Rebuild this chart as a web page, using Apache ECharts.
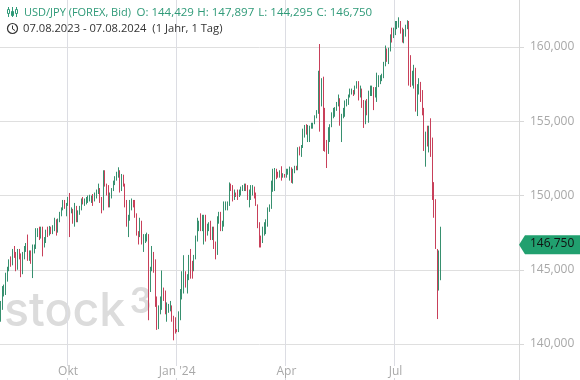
<!DOCTYPE html>
<html>
<head>
<meta charset="utf-8">
<style>
  html, body { margin: 0; padding: 0; background: #fff; }
  #chart { width: 580px; height: 380px; }
</style>
<script src="https://cdn.jsdelivr.net/npm/echarts@6/dist/echarts.min.js"></script>
</head>
<body>
<div id="chart"></div>
<script>
// one line per trading week, Monday to Friday
const opens = [
  141.8,142.5,143.4,143.8,144.7,
  145.0,145.6,145.5,146.3,146.1,
  145.4,146.2,145.9,144.8,146.1,
  146.4,146.5,145.9,146.1,145.5,
  146.2,146.5,147.7,147.7,147.3,
  147.8,146.6,147.1,147.5,147.4,
  147.8,147.6,147.8,148.3,147.6,
  148.3,148.8,149.0,149.6,149.3,
  149.3,149.8,149.0,149.0,148.5,
  149.3,148.5,148.7,149.2,149.8,
  149.5,149.5,149.8,149.8,149.9,
  149.9,149.7,149.9,150.3,150.4,
  149.6,149.1,151.7,150.9,150.5,
  149.4,150.0,150.4,150.9,151.3,
  151.5,151.7,150.4,151.4,150.7,
  149.6,148.3,148.4,149.5,149.6,
  149.4,148.7,147.4,147.2,148.2,
  146.8,147.2,147.2,147.3,144.2,
  144.9,146.2,145.4,142.9,141.9,
  142.1,142.8,143.8,143.5,142.1,
  142.4,142.4,142.4,141.8,141.4,
  141.0,140.9,142.0,143.3,144.6,
  144.6,144.2,144.5,145.8,145.3,
  144.9,145.8,147.2,148.1,148.2,
  148.1,148.1,148.4,147.5,147.7,
  148.1,147.5,147.6,146.9,146.4,
  148.4,148.7,147.9,148.0,149.3,
  149.3,149.4,150.7,150.6,150.0,
  150.2,150.1,150.0,150.3,150.5,
  150.5,150.7,150.5,149.9,150.0,
  150.1,150.5,150.0,149.4,147.9,
  147.1,147.0,147.7,147.7,148.3,
  149.0,149.1,150.8,151.2,151.6,
  151.5,151.4,151.5,151.3,151.4,
  151.3,151.6,151.6,151.7,151.3,
  151.6,151.9,151.8,153.2,153.0,
  153.3,154.2,154.7,154.3,154.6,
  154.6,154.8,154.8,155.3,155.6,
  158.3,156.3,157.8,154.6,153.7,
  153.0,153.9,154.7,155.5,155.5,
  155.8,156.2,156.4,154.9,155.4,
  155.7,156.2,156.2,156.8,157.0,
  157.0,156.9,157.2,157.6,156.8,
  157.3,156.1,154.8,156.1,155.6,
  156.7,157.0,157.0,156.7,157.0,
  157.4,157.7,157.9,158.1,158.9,
  159.8,159.7,159.7,160.8,160.7,
  160.9,161.5,161.5,161.7,161.3,
  160.7,160.8,161.3,161.5,158.8,
  157.9,158.0,158.3,156.2,157.4,
  157.5,157.0,155.6,153.9,153.9,
  153.8,154.0,152.8,150.0,149.3,
  146.5,144.2,144.429
];
const closes = [
  142.5,143.4,143.8,144.7,145.0,
  145.6,145.5,146.3,146.1,145.4,
  146.2,145.9,144.8,146.1,146.4,
  146.5,145.9,146.1,145.5,146.2,
  146.5,147.7,147.7,147.3,147.8,
  146.6,147.1,147.5,147.4,147.8,
  147.6,147.8,148.3,147.6,148.3,
  148.8,149.0,149.6,149.3,149.3,
  149.8,149.0,149.0,148.5,149.3,
  148.5,148.7,149.2,149.8,149.5,
  149.5,149.8,149.8,149.9,149.9,
  149.7,149.9,150.3,150.4,149.6,
  149.1,151.7,150.9,150.5,149.4,
  150.0,150.4,150.9,151.3,151.5,
  151.7,150.4,151.4,150.7,149.6,
  148.3,148.4,149.5,149.6,149.4,
  148.7,147.4,147.2,148.2,146.8,
  147.2,147.2,147.3,144.2,144.9,
  146.2,145.4,142.9,141.9,142.1,
  142.8,143.8,143.5,142.1,142.4,
  142.4,142.4,141.8,141.4,141.0,
  140.9,142.0,143.3,144.6,144.6,
  144.2,144.5,145.8,145.3,144.9,
  145.8,147.2,148.1,148.2,148.1,
  148.1,148.4,147.5,147.7,148.1,
  147.5,147.6,146.9,146.4,148.4,
  148.7,147.9,148.0,149.3,149.3,
  149.4,150.7,150.6,150.0,150.2,
  150.1,150.0,150.3,150.5,150.5,
  150.7,150.5,149.9,150.0,150.1,
  150.5,150.0,149.4,147.9,147.1,
  147.0,147.7,147.7,148.3,149.0,
  149.1,150.8,151.2,151.6,151.5,
  151.4,151.5,151.3,151.4,151.3,
  151.6,151.6,151.7,151.3,151.6,
  151.9,151.8,153.2,153.0,153.3,
  154.2,154.7,154.3,154.6,154.6,
  154.8,154.8,155.3,155.6,158.3,
  156.3,157.8,154.6,153.7,153.0,
  153.9,154.7,155.5,155.5,155.8,
  156.2,156.4,154.9,155.4,155.7,
  156.2,156.2,156.8,157.0,157.0,
  156.9,157.2,157.6,156.8,157.3,
  156.1,154.8,156.1,155.6,156.7,
  157.0,157.0,156.7,157.0,157.4,
  157.7,157.9,158.1,158.9,159.8,
  159.7,159.7,160.8,160.7,160.9,
  161.5,161.5,161.7,161.3,160.7,
  160.8,161.3,161.5,158.8,157.9,
  158.0,158.3,156.2,157.4,157.5,
  157.0,155.6,153.9,153.9,153.8,
  154.0,152.8,150.0,149.3,146.5,
  144.2,144.429,146.75
];
const lows = [
  141.5,142.3,143.2,143.3,144.2,
  144.9,145.2,145.3,145.8,144.9,
  145.0,145.7,144.5,144.7,145.7,
  146.2,145.6,145.6,145.4,144.44,
  146.1,146.4,147.2,147.0,147.1,
  145.9,146.5,146.8,147.2,147.3,
  147.4,147.4,147.6,147.3,147.5,
  148.2,148.6,149.0,149.1,148.6,
  149.3,147.2,148.8,148.1,147.9,
  148.2,148.2,148.7,149.0,149.4,
  149.3,149.4,149.5,149.6,149.5,
  149.3,149.6,149.8,150.1,149.5,
  148.8,149.0,150.6,150.0,149.2,
  149.2,149.8,150.3,150.7,151.0,
  151.2,150.2,150.3,150.6,149.2,
  147.9,147.2,148.3,149.0,149.2,
  148.5,147.3,146.7,147.2,146.7,
  146.2,146.8,146.9,141.6,143.5,
  144.9,144.8,142.5,140.95,141.0,
  142.0,142.3,142.9,142.0,141.5,
  142.1,142.2,141.5,140.25,140.7,
  140.8,140.8,141.6,143.0,143.4,
  143.8,143.4,144.3,144.4,144.4,
  144.9,145.7,146.9,147.6,147.6,
  147.6,146.7,146.9,147.3,147.6,
  147.0,147.0,146.4,145.7,146.0,
  148.1,147.6,147.6,147.9,149.0,
  149.0,149.3,150.3,149.6,149.7,
  149.9,149.7,149.9,150.0,150.3,
  150.3,150.3,149.7,149.2,149.7,
  150.0,149.8,149.3,147.8,146.5,
  146.5,146.8,147.3,147.4,147.9,
  148.9,149.1,150.25,150.3,151.1,
  151.2,151.2,151.0,151.2,151.2,
  151.2,151.4,151.0,150.85,150.8,
  151.5,151.7,151.7,152.7,152.6,
  153.2,153.9,154.1,153.6,153.6,
  154.5,154.5,154.8,155.2,155.5,
  154.3,156.0,153.0,152.95,151.85,
  152.8,153.6,154.6,155.2,155.3,
  155.7,156.0,154.7,153.6,155.2,
  155.3,156.0,156.1,156.6,156.8,
  156.7,156.8,157.2,156.4,156.6,
  155.9,154.55,154.8,155.4,154.9,
  156.7,156.7,155.75,156.6,156.3,
  157.3,157.5,157.7,157.9,158.7,
  159.0,158.85,159.7,160.3,160.6,
  160.8,161.2,161.3,160.9,160.3,
  160.25,160.7,161.2,157.4,157.3,
  157.4,157.2,155.65,155.35,156.8,
  156.3,155.4,153.0,151.94,153.3,
  152.9,152.6,149.7,148.5,146.4,
  141.68,143.6,144.295
];
const highs = [
  142.9,143.9,144.0,144.8,145.2,
  145.7,145.9,146.4,146.6,146.2,
  146.4,146.4,146.1,146.2,146.6,
  146.8,147.37,146.3,146.3,146.7,
  146.7,147.8,147.8,147.9,147.9,
  147.9,147.2,147.7,147.9,147.95,
  147.9,148.0,148.5,148.4,148.45,
  148.9,149.2,149.7,149.7,149.5,
  149.9,150.17,149.2,149.1,149.5,
  149.3,149.0,149.3,149.8,149.9,
  149.8,149.9,150.0,150.05,150.0,
  150.1,150.2,150.4,150.8,150.5,
  149.9,151.7,151.7,150.8,150.7,
  150.2,150.5,151.0,151.3,151.6,
  151.9,151.7,151.45,151.4,150.8,
  149.7,148.7,149.7,149.8,149.7,
  149.7,148.8,147.6,148.5,148.3,
  147.4,147.4,147.5,147.4,145.2,
  146.6,146.2,145.7,143.2,142.6,
  143.2,144.95,143.8,143.6,142.8,
  142.7,142.9,142.6,141.9,141.8,
  141.0,142.2,143.7,144.9,145.98,
  144.9,144.7,146.0,146.4,145.6,
  146.0,147.3,148.5,148.3,148.8,
  148.7,148.7,148.7,148.1,148.2,
  148.3,147.9,147.9,146.9,148.6,
  148.9,148.9,148.3,149.6,149.6,
  149.6,150.88,150.8,150.7,150.4,
  150.2,150.4,150.4,150.6,150.7,
  150.8,150.8,150.7,150.4,150.7,
  150.7,150.6,150.2,149.4,148.2,
  147.3,147.9,148.2,148.4,149.2,
  149.4,151.0,151.8,151.85,151.8,
  151.6,151.7,151.97,151.5,151.45,
  151.8,151.8,151.95,151.9,151.8,
  152.0,152.0,153.25,153.3,153.4,
  154.5,154.75,154.8,154.75,154.7,
  154.9,154.9,155.4,155.75,158.4,
  160.2,157.9,158.0,155.9,153.74,
  154.6,154.8,155.6,155.9,155.95,
  156.3,156.8,156.55,155.5,155.9,
  156.4,156.5,156.8,157.2,157.2,
  157.1,157.4,157.7,157.7,157.4,
  157.2,156.43,156.4,156.5,157.06,
  157.4,157.4,157.3,157.3,158.27,
  158.1,158.1,158.2,159.0,160.1,
  159.9,159.95,160.85,161.3,161.3,
  161.75,161.75,162.0,161.75,161.3,
  161.2,161.5,161.8,161.75,159.45,
  158.4,158.8,158.6,157.5,157.9,
  157.65,157.1,155.9,154.3,154.7,
  154.7,155.2,153.9,150.9,149.75,
  146.4,146.3,147.897
];
const startDate = '2023-08-07';
const slotCount = 309; // weekdays on the axis incl. the empty space on the right
const tickLabels = { '2023-10-02': 'Okt', '2024-01-01': "Jan '24", '2024-04-01': 'Apr', '2024-07-01': 'Jul' };
const priceTicks = [140, 145, 150, 155, 160];
const lastPrice = 146.75;
const headerParts = ['USD/JPY (FOREX, Bid)', 'O: 144,429', 'H: 147,897', 'L: 144,295', 'C: 146,750'];
const rangeText = '07.08.2023 - 07.08.2024  (1 Jahr, 1 Tag)';

const UP = '#37906f';
const DOWN = '#c8405a';
const FONT = '"Open Sans", sans-serif';

function weekdays(start, n) {
  const out = [];
  const d = new Date(start + 'T12:00:00Z');
  while (out.length < n) {
    if (d.getUTCDay() !== 0 && d.getUTCDay() !== 6) out.push(d.toISOString().slice(0, 10));
    d.setUTCDate(d.getUTCDate() + 1);
  }
  return out;
}

function fmtPrice(v) {
  return v.toFixed(3).replace('.', ',');
}

const categories = weekdays(startDate, slotCount);
const candles = opens.map((o, i) => [o, closes[i], lows[i], highs[i]]);
const isTick = (i, name) => name in tickLabels;
const headerX = [24, 136.5, 197.3, 258.3, 316.5];

const chart = echarts.init(document.getElementById('chart'), null, { renderer: 'canvas' });

const baseGraphics = [
  // watermark, the 3 is raised like an exponent
  { type: 'text', left: 4, top: 289, z: 0, style: { text: 'stock', fill: '#dcdcdc', font: '500 46.5px Inter, sans-serif' } },
  { type: 'text', left: 130, top: 283, z: 0, style: { text: '3', fill: '#dcdcdc', font: '700 37px Lato, sans-serif' } },
  // header
  ...headerParts.map((t, i) => ({ type: 'text', left: headerX[i], top: 7, z: 10, style: { text: t, fill: '#2f9a78', font: (i === 0 ? '11px ' : '11.5px ') + FONT } })),
  { type: 'text', left: 23, top: 23, z: 10, style: { text: rangeText, fill: '#333', font: '11.2px ' + FONT } },
  // candle icon
  { type: 'line', z: 10, shape: { x1: 8.5, y1: 7, x2: 8.5, y2: 17 }, style: { stroke: '#2f9a78', lineWidth: 1 } },
  { type: 'rect', z: 11, shape: { x: 7.5, y: 9.5, width: 2, height: 4 }, style: { fill: '#fff', stroke: '#2f9a78', lineWidth: 1 } },
  { type: 'line', z: 10, shape: { x1: 12.5, y1: 7, x2: 12.5, y2: 17 }, style: { stroke: '#2f9a78', lineWidth: 1 } },
  { type: 'rect', z: 11, shape: { x: 11.5, y: 11.5, width: 2, height: 4 }, style: { fill: '#2f9a78', stroke: '#2f9a78', lineWidth: 1 } },
  { type: 'line', z: 10, shape: { x1: 16.5, y1: 7, x2: 16.5, y2: 17 }, style: { stroke: '#2f9a78', lineWidth: 1 } },
  { type: 'rect', z: 11, shape: { x: 15.5, y: 9.5, width: 2, height: 4 }, style: { fill: '#fff', stroke: '#2f9a78', lineWidth: 1 } },
  // clock icon
  { type: 'circle', z: 10, shape: { cx: 12.5, cy: 28.5, r: 5 }, style: { fill: 'none', stroke: '#333', lineWidth: 1.2 } },
  { type: 'polyline', z: 10, shape: { points: [[12.5, 25.5], [12.5, 29], [15, 30.5]] }, style: { fill: 'none', stroke: '#333', lineWidth: 1 } }
];

chart.setOption({
  animation: false,
  backgroundColor: '#fff',
  grid: { left: -2, right: 61, top: 0, bottom: 0 },
  xAxis: {
    type: 'category',
    data: categories,
    axisLine: { show: false },
    axisTick: { show: true, inside: true, length: 3, interval: isTick, lineStyle: { color: '#d4d6dc' } },
    splitLine: { show: true, interval: isTick, lineStyle: { color: '#dcdde3', width: 1 } },
    axisLabel: {
      inside: true,
      margin: 2,
      interval: isTick,
      hideOverlap: false,
      color: '#a8a8a8',
      fontFamily: FONT,
      fontSize: 12,
      backgroundColor: '#fff',
      formatter: (v) => tickLabels[v] || ''
    }
  },
  yAxis: {
    type: 'value',
    position: 'right',
    scale: true,
    min: 137.576,
    max: 163.165,
    axisLine: { show: true, lineStyle: { color: '#d8d8d8' } },
    axisTick: { show: true, length: 5, lineStyle: { color: '#d8d8d8' }, customValues: priceTicks },
    splitLine: { show: true, lineStyle: { color: '#dfdfdf', width: 1 } },
    axisLabel: {
      margin: 11,
      padding: [3, 0, 0, 0],
      color: '#a8a8a8',
      fontFamily: FONT,
      fontSize: 12,
      customValues: priceTicks,
      formatter: (v) => fmtPrice(v)
    }
  },
  series: [{
    type: 'candlestick',
    data: candles,
    barWidth: 1,
    itemStyle: { color: UP, color0: DOWN, borderColor: UP, borderColor0: DOWN, borderWidth: 1 }
  }],
  graphic: baseGraphics
});

// price tag sits on the axis at the last close
const tagY = chart.convertToPixel({ yAxisIndex: 0 }, lastPrice);
chart.setOption({
  graphic: baseGraphics.concat([
    { type: 'polygon', z: 10, shape: { points: [[519, tagY + 1], [525, tagY - 8.5], [580, tagY - 8.5], [580, tagY + 10.5], [525, tagY + 10.5]] }, style: { fill: '#21a06f' } },
    { type: 'text', z: 11, left: 530, top: tagY - 6.5, style: { text: fmtPrice(lastPrice), fill: '#111', font: '12px ' + FONT } }
  ])
});
</script>
</body>
</html>
